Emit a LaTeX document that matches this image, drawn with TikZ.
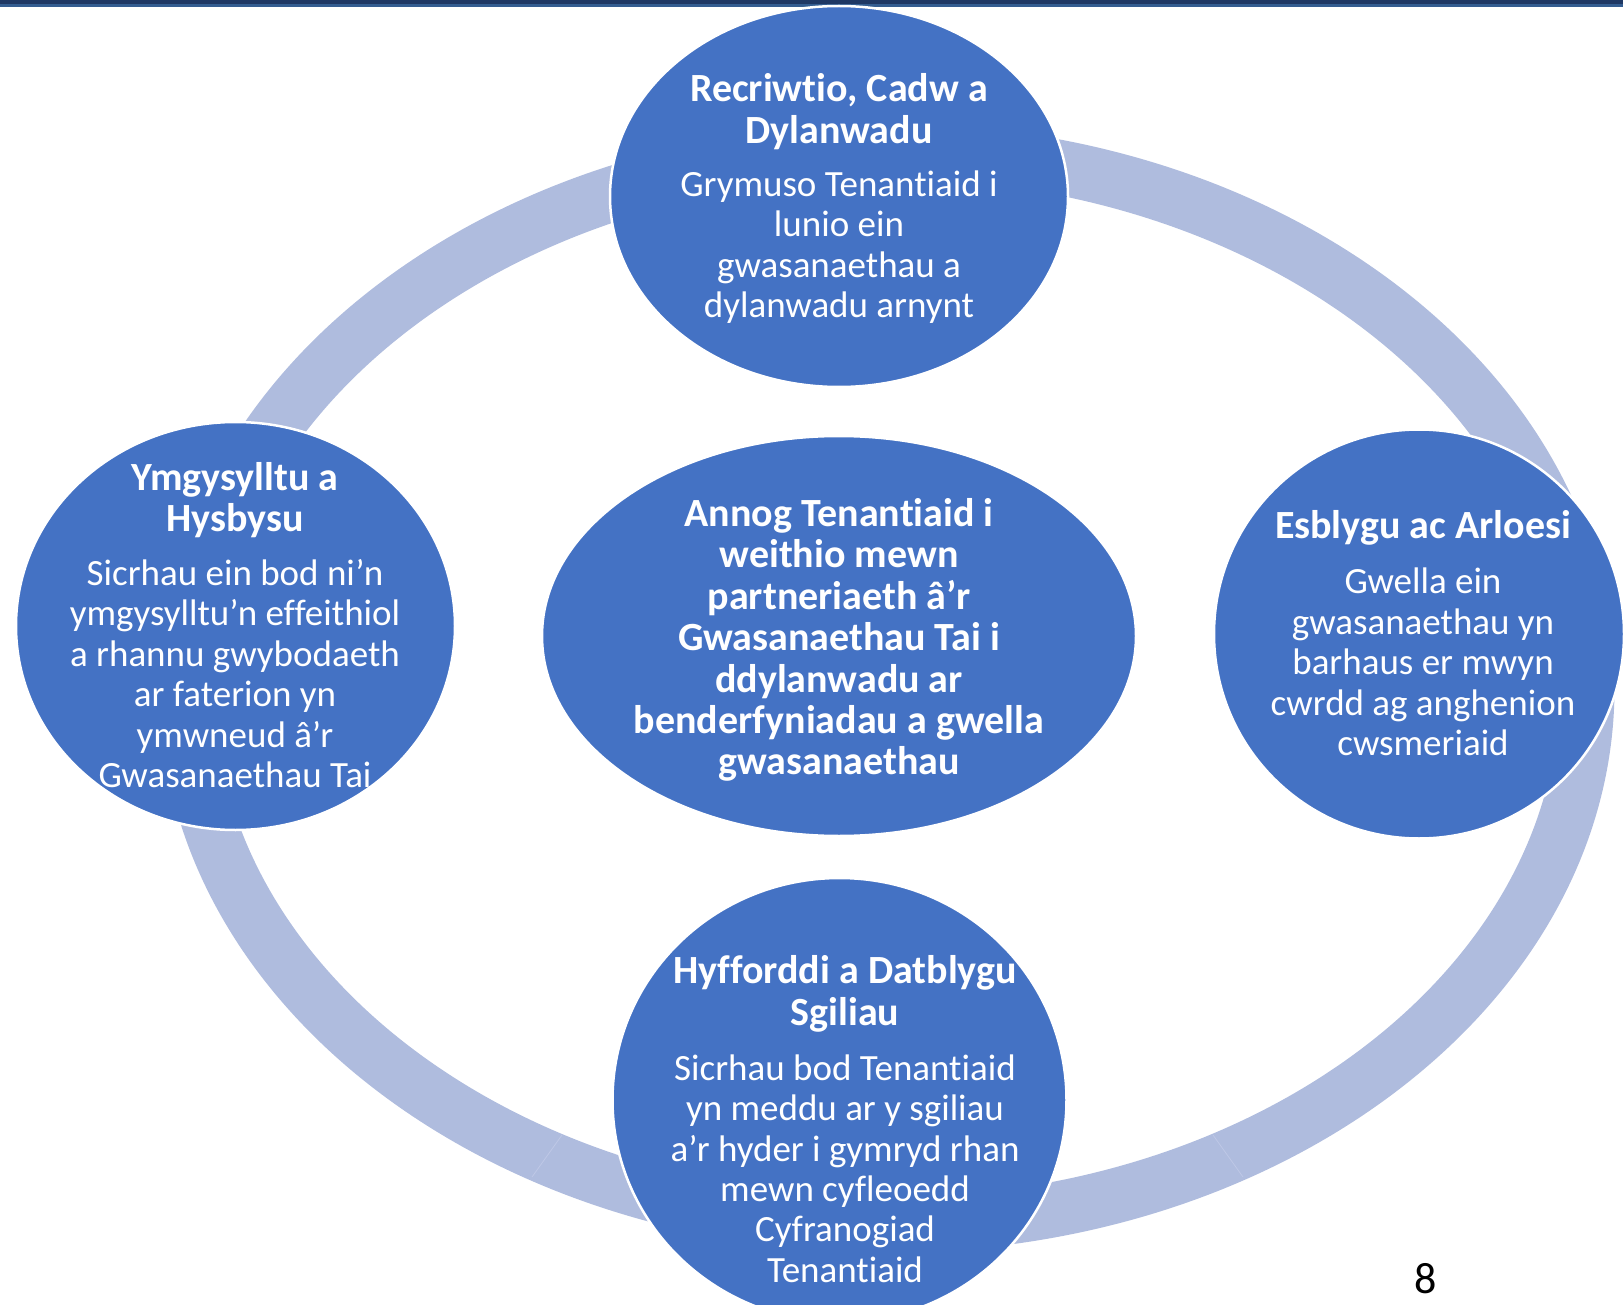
\documentclass[tikz,border=0pt]{standalone}
\usepackage{fontspec}
\setmainfont{Carlito}[Ligatures={NoCommon,NoRare,NoContextual}]
\usetikzlibrary{shapes.geometric}
\definecolor{circ}{RGB}{68,114,196}
\definecolor{ringc}{RGB}{175,188,222}
\definecolor{seamc}{RGB}{190,200,230}
\definecolor{barnavy}{RGB}{31,56,100}
\definecolor{barblue}{RGB}{52,93,145}
\begin{document}
\begin{tikzpicture}[x=1pt,y=-1pt,
  bubble/.style={ellipse, fill=circ, draw=white, line width=2.5pt, inner sep=0pt},
  hd/.style={text=white, align=center, inner sep=0pt, font=\bfseries\fontsize{40}{41.4}\selectfont},
  bd/.style={text=white, align=center, inner sep=0pt, font=\fontsize{37}{40.4}\selectfont}]
\useasboundingbox (0,0) rectangle (1623,1305);
\clip (0,0) rectangle (1623,1305);
% top bar
\fill[barnavy] (0,0) rectangle (1623,4.3);
\fill[barblue] (0,4.3) rectangle (1623,7.3);
% ring
\draw[ringc, line width=55pt] (887,688) ellipse [x radius=700pt, y radius=537pt];
\coordinate (s1a) at (532,1177); \coordinate (s1b) at (562,1135);
\coordinate (s2a) at (1213,1135); \coordinate (s2b) at (1243,1177);
\draw[seamc, line width=0.8pt] (s1a) -- (s1b);
\draw[seamc, line width=0.8pt] (s2a) -- (s2b);
% bubbles
\node[bubble, minimum width=458pt, minimum height=381pt] (top) at (839,196.5) {};
\node[bubble, minimum width=439pt, minimum height=408pt] (left) at (235.5,626) {};
\node[bubble, minimum width=410pt, minimum height=409pt] (right) at (1419,634) {};
\node[bubble, minimum width=454pt, minimum height=444pt] (bottom) at (839.5,1100) {};
\node[bubble, minimum width=594pt, minimum height=400pt] (mid) at (839,636) {};
% texts
\node[hd] (topH) at (839,111.5) {Recriwtio, Cadw a\\Dylanwadu};
\node[bd] (topB) at (839,247) {Grymuso Tenantiaid i\\lunio ein\\gwasanaethau a\\dylanwadu arnynt};
\node[hd] (leftH) at (235,500) {Ymgysylltu a\\Hysbysu};
\node[bd] (leftB) at (235,673.5) {Sicrhau ein bod ni’n\\ymgysylltu’n effeithiol\\a rhannu gwybodaeth\\ar faterion yn\\ymwneud â’r\\Gwasanaethau Tai};
\node[hd] (rightH) at (1423,528) {Esblygu ac Arloesi};
\node[bd] (rightB) at (1423,662) {Gwella ein\\gwasanaethau yn\\barhaus er mwyn\\cwrdd ag anghenion\\cwsmeriaid};
\node[hd] (bottomH) at (845,994) {Hyfforddi a Datblygu\\Sgiliau};
\node[bd] (bottomB) at (845,1168.5) {Sicrhau bod Tenantiaid\\yn meddu ar y sgiliau\\a’r hyder i gymryd rhan\\mewn cyfleoedd\\Cyfranogiad\\Tenantiaid};
\node[hd] (midT) at (839,640) {Annog Tenantiaid i\\weithio mewn\\partneriaeth â’r\\Gwasanaethau Tai i\\ddylanwadu ar\\benderfyniadau a gwella\\gwasanaethau};
% page number
\node[anchor=base, inner sep=0pt, font=\fontsize{44}{50}\selectfont] (pnum) at (1426,1293) {8};
\end{tikzpicture}
\end{document}
